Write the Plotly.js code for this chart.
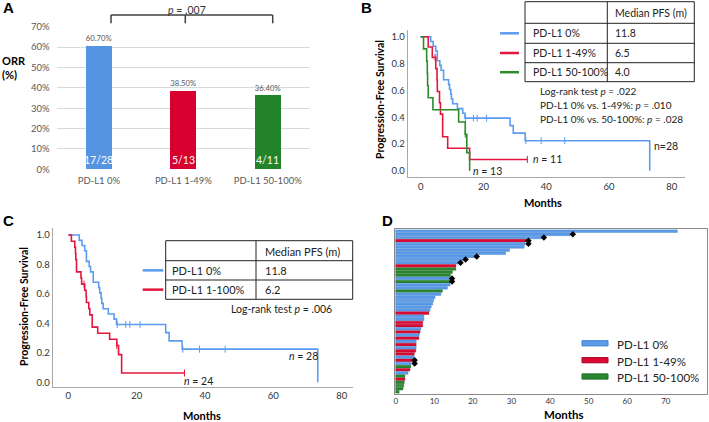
<!DOCTYPE html>
<html><head><meta charset="utf-8">
<script src="https://cdn.plot.ly/plotly-3.0.1.min.js"></script>
<style>html,body{margin:0;padding:0;background:#fff}#chart{width:709px;height:422px}</style>
</head><body><div id="chart"></div>
<script>
// ---------- Panel A data ----------
const catsA = ['PD-L1 0%', 'PD-L1 1-49%', 'PD-L1 50-100%'];
const orrA = [60.7, 38.5, 36.4];
const orrLabelsA = ['60.70%', '38.50%', '36.40%'];
const fracA = ['17/28', '5/13', '4/11'];
const pTextA = '<i>p</i> = .007';

// ---------- Panel B data (Kaplan-Meier steps) ----------
const bBlueT = [0, 3.2, 4.0, 4.8, 5.3, 6.1, 6.5, 7.3, 8.9, 9.2, 9.6, 9.8, 10.2, 11.7, 13.4, 14.1, 28.5, 29.5, 33.3, 73];
const bBlueS = [1, .964, .929, .893, .821, .786, .75, .679, .643, .607, .571, .536, .5, .464, .429, .393, .337, .281, .225, 0];
const bBlueCensT = [14.3, 16.8, 18.0, 21.0, 33.5, 38.4, 45.9];
const bBlueCensS = [.393, .393, .393, .393, .225, .225, .225];
const bRedT = [0, 2.4, 3.7, 4.8, 5.2, 5.3, 6.0, 6.3, 7.0, 8.6, 15.6, 34];
const bRedS = [1, .923, .846, .762, .677, .592, .508, .423, .254, .169, .085, .085];
const bRedCensT = [4.6, 34];
const bRedCensS = [.846, .085];
const bGreenT = [0, 0.9, 1.9, 2.1, 2.2, 2.4, 3.9, 12.1, 14.2, 14.7, 15.6];
const bGreenS = [1, .909, .818, .727, .636, .545, .455, .364, .273, .136, 0];
const bGreenCensT = [14.2];
const bGreenCensS = [.273];
const bTableGroups = ['PD-L1 0%', 'PD-L1 1-49%', 'PD-L1 50-100%'];
const bTableMedians = ['11.8', '6.5', '4.0'];
const bStats = ['Log-rank test <i>p</i> = .022', 'PD-L1 0% vs. 1-49%: <i>p</i> = .010', 'PD-L1 0% vs. 50-100%: <i>p</i> = .028'];
const bNLabels = ['n=28', '<i>n</i> = 11', '<i>n</i> = 13'];

// ---------- Panel C data ----------
const cBlueT = bBlueT, cBlueS = bBlueS, cBlueCensT = bBlueCensT, cBlueCensS = bBlueCensS;
const cRedT = [0, 0.9, 1.9, 2.1, 2.2, 2.4, 3.7, 3.9, 4.8, 5.2, 5.3, 6.0, 6.3, 7.0, 8.6, 12.1, 14.2, 14.7, 15.6, 34];
const cRedS = [1, .958, .917, .875, .833, .75, .708, .667, .625, .583, .542, .5, .458, .375, .333, .292, .25, .188, .063, .063];
const cRedCensT = [4.6, 14.2, 34];
const cRedCensS = [.667, .25, .063];
const cTableGroups = ['PD-L1 0%', 'PD-L1 1-100%'];
const cTableMedians = ['11.8', '6.2'];
const cStat = 'Log-rank test <i>p</i> = .006';
const cNLabels = ['<i>n</i> = 28', '<i>n</i> = 24'];

// ---------- Panel D data (swimmer plot, top to bottom) ----------
const dMonths = [73.0, 45.2, 37.8, 34.0, 33.5, 33.3, 29.5, 28.5, 20.6, 17.6, 16.4, 15.6, 15.6, 14.7, 14.2, 14.3, 14.2, 14.1, 13.4, 12.1,
  11.7, 10.2, 9.8, 9.6, 9.2, 8.9, 8.6, 7.3, 7.3, 7.0, 7.0, 6.5, 6.3, 6.1, 6.0, 5.3, 5.3, 5.3, 5.2, 4.8,
  4.8, 4.6, 4.0, 3.9, 3.7, 3.2, 2.4, 2.4, 2.2, 2.1, 1.9, 0.9];
const dGroup = ['0', '0', '0', '1', '0', '0', '0', '0', '0', '0', '0', '1', '2', '2', '2', '0', '2', '0', '0', '2',
  '0', '0', '0', '0', '0', '0', '1', '0', '0', '1', '1', '0', '1', '0', '1', '0', '1', '0', '1', '1',
  '0', '1', '0', '2', '1', '0', '2', '1', '2', '2', '2', '2'];
const dMarkBar = [1, 2, 3, 4, 8, 9, 10, 15, 16, 41, 42];
const dMarkMonth = [45.9, 38.4, 34.4, 34.4, 21.0, 18.1, 16.8, 14.6, 14.6, 4.9, 4.9];
const dLegend = ['PD-L1 0%', 'PD-L1 1-49%', 'PD-L1 50-100%'];

// ---------- styles ----------
const W = 709, H = 422;
const px = x => x / W, py = y => 1 - y / H;
const FONT = 'Lato, "Open Sans", sans-serif';
const barColA = ['#5494E1', '#D8002F', '#23832A'];
const kmBlue = '#5A9CF0', kmRed = '#E3173E', kmGreen = '#2C8C2C';
const dCol = {'0': '#5B9BE8', '1': '#DB0A35', '2': '#2A8630'};
const dLine = {'0': '#3D7FD0', '1': '#A80022', '2': '#1C6A22'};

const traces = [];
// Panel A
traces.push({type: 'bar', x: catsA, y: orrA, xaxis: 'x', yaxis: 'y', width: 0.31,
  marker: {color: barColA}, text: orrLabelsA, textposition: 'outside', cliponaxis: false,
  textfont: {size: 9.5, color: '#595959', family: FONT}, hoverinfo: 'skip'});

function km(t, s, col, xa, ya) {
  traces.push({type: 'scatter', mode: 'lines', x: t, y: s, line: {shape: 'hv', color: col, width: 1.6}, xaxis: xa, yaxis: ya, cliponaxis: false});
}
function cens(t, s, col, xa, ya) {
  traces.push({type: 'scatter', mode: 'markers', x: t, y: s, marker: {symbol: 'line-ns', size: 5, line: {color: col, width: 1}}, xaxis: xa, yaxis: ya, cliponaxis: false});
}
km(bBlueT, bBlueS, kmBlue, 'x2', 'y2'); cens(bBlueCensT, bBlueCensS, kmBlue, 'x2', 'y2');
km(bRedT, bRedS, kmRed, 'x2', 'y2'); cens(bRedCensT, bRedCensS, kmRed, 'x2', 'y2');
km(bGreenT, bGreenS, kmGreen, 'x2', 'y2'); cens(bGreenCensT, bGreenCensS, kmGreen, 'x2', 'y2');
km(cBlueT, cBlueS, kmBlue, 'x3', 'y3'); cens(cBlueCensT, cBlueCensS, kmBlue, 'x3', 'y3');
km(cRedT, cRedS, kmRed, 'x3', 'y3'); cens(cRedCensT, cRedCensS, kmRed, 'x3', 'y3');

// Panel D
const dIdx = dMonths.map((v, i) => i);
traces.push({type: 'bar', orientation: 'h', x: dMonths, y: dIdx, base: 0, width: 0.84,
  marker: {color: dGroup.map(g => dCol[g]), line: {color: dGroup.map(g => dLine[g]), width: 0.4}},
  xaxis: 'x4', yaxis: 'y4', hoverinfo: 'skip'});
traces.push({type: 'scatter', mode: 'markers', x: dMarkMonth, y: dMarkBar,
  marker: {symbol: 'diamond', size: 5, color: '#000'}, xaxis: 'x4', yaxis: 'y4', cliponaxis: false});

const shapes = [], ann = [];
function line(x0, y0, x1, y1, col, w) {
  shapes.push({type: 'line', xref: 'paper', yref: 'paper', x0: px(x0), y0: py(y0), x1: px(x1), y1: py(y1), line: {color: col, width: w}});
}
function txt(t, x, y, opt) {
  ann.push(Object.assign({text: t, x: px(x), y: py(y), xref: 'paper', yref: 'paper', showarrow: false,
    xanchor: 'left', yanchor: 'middle', font: {family: FONT, size: 10.5, color: '#222'}}, opt || {}));
}
// fractions inside bars of panel A (data coords)
catsA.forEach((c, i) => ann.push({text: fracA[i], x: c, y: 0, xref: 'x', yref: 'y', showarrow: false,
  yanchor: 'bottom', xanchor: 'center', yshift: 1, font: {family: FONT, size: 10.5, color: '#fff'}}));

// panel letters
const LET = {family: 'Arial, "Liberation Sans", sans-serif', size: 15, color: '#000', weight: 'bold'};
txt('A', 1, 8, {font: LET}); txt('B', 359, 8, {font: LET}); txt('C', 1, 220, {font: LET}); txt('D', 380, 220, {font: LET});

// Panel A extras
txt('<b>ORR</b><br><b>(%)</b>', 0, 67.5, {font: {family: FONT, size: 11, color: '#000'}, align: 'left'});
line(111, 15, 272.7, 15, '#404040', 1.5);
line(111, 15, 111, 23.3, '#404040', 1.5);
line(272.7, 15, 272.7, 23.3, '#404040', 1.5);
line(185.3, 15, 185.3, 23.3, '#404040', 1.5);
txt(pTextA, 186.7, 10, {xanchor: 'center', font: {family: FONT, size: 10.5, color: '#333'}});

// Panel B table
const bx0 = 525, bx1 = 694.3, bxc = 607.3, bRows = [1.7, 23.3, 43.3, 62.7, 81.7];
shapes.push({type: 'rect', xref: 'paper', yref: 'paper', x0: px(bx0), x1: px(bx1), y0: py(bRows[4]), y1: py(bRows[0]), line: {color: '#222', width: 1}});
line(bxc, bRows[0], bxc, bRows[4], '#222', 1);
for (let i = 1; i < 4; i++) line(bx0, bRows[i], bx1, bRows[i], '#222', 1);
txt('Median PFS (m)', 612.7, 13.3);
const bLegCol = [kmBlue, kmRed, kmGreen];
bTableGroups.forEach((g, i) => {
  const yc = (bRows[i + 1] + bRows[i + 2]) / 2;
  txt(g, 530.7, yc); txt(bTableMedians[i], 612.7, yc);
  line(500, yc, 519, yc, bLegCol[i], 2.5);
});
bStats.forEach((s, i) => txt(s, 537.7, [90.7, 105.3, 119.3][i], {font: {family: FONT, size: 10, color: '#222'}}));
txt(bNLabels[0], 651.7, 145.7); txt(bNLabels[1], 530.7, 159); txt(bNLabels[2], 471, 170.7);
txt('<b>Months</b>', 543, 202.3, {xanchor: 'center', font: {family: FONT, size: 11, color: '#000'}});
txt('<b>Progression-Free Survival</b>', 380, 100, {xanchor: 'center', textangle: -90, font: {family: FONT, size: 10.5, color: '#000'}});

// Panel C table
const cx0 = 165.7, cx1 = 352.7, cxc = 256, cRows = [240.7, 260.7, 280, 299.3];
shapes.push({type: 'rect', xref: 'paper', yref: 'paper', x0: px(cx0), x1: px(cx1), y0: py(cRows[3]), y1: py(cRows[0]), line: {color: '#222', width: 1}});
line(cxc, cRows[0], cxc, cRows[3], '#222', 1);
for (let i = 1; i < 3; i++) line(cx0, cRows[i], cx1, cRows[i], '#222', 1);
txt('Median PFS (m)', 263.3, 251.2, {font: {family: FONT, size: 11, color: '#222'}});
const cLegCol = [kmBlue, kmRed];
cTableGroups.forEach((g, i) => {
  const yc = (cRows[i + 1] + cRows[i + 2]) / 2;
  txt(g, 170, yc, {font: {family: FONT, size: 11, color: '#222'}});
  txt(cTableMedians[i], 263.3, yc, {font: {family: FONT, size: 11, color: '#222'}});
  line(142.7, yc, 163.3, yc, cLegCol[i], 2.5);
});
txt(cStat, 229.3, 309);
txt(cNLabels[0], 286.7, 356); txt(cNLabels[1], 181.7, 380.7);
txt('<b>Months</b>', 201.7, 415.5, {xanchor: 'center', font: {family: FONT, size: 11, color: '#000'}});
txt('<b>Progression-Free Survival</b>', 23.3, 306.7, {xanchor: 'center', textangle: -90, font: {family: FONT, size: 10.5, color: '#000'}});

// Panel D legend + title
const dLegY = [343.3, 360.2, 376.5];
['0', '1', '2'].forEach((g, i) => {
  shapes.push({type: 'rect', xref: 'paper', yref: 'paper', x0: px(582), x1: px(608), y0: py(dLegY[i] + 2.6), y1: py(dLegY[i] - 2.6),
    fillcolor: dCol[g], line: {color: dLine[g], width: 1}});
  txt(dLegend[i], 615, dLegY[i] + 0.8, {font: {family: FONT, size: 11.5, color: '#222'}});
});
txt('<b>Months</b>', 564, 414.5, {xanchor: 'center', font: {family: FONT, size: 11.5, color: '#000'}});

const kmAxisX = (dom, rng) => ({domain: dom, range: rng, tick0: 0, dtick: 20, showline: true, linecolor: '#a8a8a8', linewidth: 1,
  showgrid: false, zeroline: false, ticks: '', tickfont: {size: 9.5, color: '#333', family: FONT}, fixedrange: true});
const kmAxisY = (dom, rng) => ({domain: dom, range: rng, tickvals: [0, .2, .4, .6, .8, 1], tickformat: '.1f', showline: true,
  linecolor: '#a8a8a8', linewidth: 1, showgrid: false, zeroline: false, ticks: '', tickfont: {size: 9.5, color: '#333', family: FONT}, fixedrange: true});

const layout = {
  width: W, height: H, margin: {l: 0, r: 0, t: 0, b: 0}, paper_bgcolor: '#fff', plot_bgcolor: 'rgba(0,0,0,0)',
  showlegend: false, font: {family: FONT}, bargap: 0,
  xaxis: {domain: [px(56.7), px(310)], type: 'category', range: [-0.5, 2.5], showgrid: false, zeroline: false, showline: false,
    ticks: '', ticklabelstandoff: 4, tickfont: {size: 9.5, color: '#595959', family: FONT}, anchor: 'y', fixedrange: true},
  yaxis: {domain: [py(169.3), py(26.7)], range: [0, 70], dtick: 10, ticksuffix: '%', gridcolor: '#d9d9d9', zeroline: false,
    showline: false, tickfont: {size: 9.5, color: '#595959', family: FONT}, anchor: 'x', ticklabelstandoff: 6, fixedrange: true},
  xaxis2: Object.assign(kmAxisX([px(407.7), px(685)], [-4.14, 84.24]), {anchor: 'y2'}),
  yaxis2: Object.assign(kmAxisY([py(177.3), py(30)], [-0.048, 1.05]), {anchor: 'x2'}),
  xaxis3: Object.assign(kmAxisX([px(52.7), px(353.3)], [-4.57, 83.4]), {anchor: 'y3'}),
  yaxis3: Object.assign(kmAxisY([py(387), py(228)], [-0.032, 1.048]), {anchor: 'x3'}),
  xaxis4: {domain: [px(395), px(706.7)], range: [-0.18, 80.6], tick0: 0, dtick: 10, showline: true, mirror: true, linecolor: '#8a8a8a',
    linewidth: 1, showgrid: false, zeroline: false, ticks: '', tickfont: {size: 8, color: '#333', family: FONT}, anchor: 'y4', fixedrange: true},
  yaxis4: {domain: [py(393.7), py(229.3)], range: [51.6, -0.6], showticklabels: false, showline: true, mirror: true, linecolor: '#8a8a8a',
    linewidth: 1, showgrid: false, zeroline: false, ticks: '', anchor: 'x4', fixedrange: true},
  shapes: shapes, annotations: ann
};
Plotly.newPlot('chart', traces, layout, {staticPlot: true, displayModeBar: false});
</script></body></html>
